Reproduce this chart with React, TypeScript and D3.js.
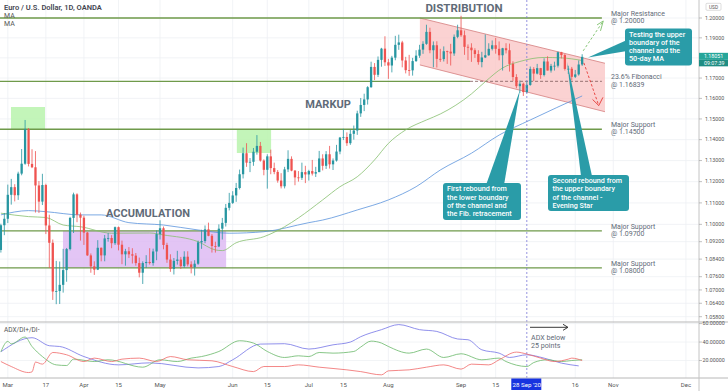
import React from "react";
import * as d3 from "d3";

const firstDate = "2020-02-27";
// [open, high, low, close] per trading day starting at firstDate
const candles: [number, number, number, number][] = [
  [1.0882, 1.1003, 1.087, 1.0996], [1.0996, 1.1053, 1.095, 1.1026],
  [1.1026, 1.1186, 1.1006, 1.1138], [1.1138, 1.1213, 1.1092, 1.1174], [1.1174, 1.1188, 1.1107, 1.1136], [1.1136, 1.1247, 1.1114, 1.1238], [1.1238, 1.1355, 1.123, 1.1285],
  [1.1285, 1.1495, 1.128, 1.145], [1.145, 1.1456, 1.1272, 1.1284], [1.1284, 1.1354, 1.1264, 1.1268], [1.1268, 1.1345, 1.1055, 1.1182], [1.1182, 1.1203, 1.1053, 1.1106],
  [1.1106, 1.1237, 1.109, 1.1184], [1.1184, 1.119, 1.0955, 1.0995], [1.0995, 1.1045, 1.08, 1.0915], [1.0915, 1.093, 1.0655, 1.0693], [1.0693, 1.0832, 1.0636, 1.0695],
  [1.0695, 1.0829, 1.0637, 1.0723], [1.0723, 1.0887, 1.0688, 1.079], [1.079, 1.0891, 1.0737, 1.0886], [1.0886, 1.1035, 1.088, 1.103], [1.103, 1.1148, 1.096, 1.114],
  [1.114, 1.1145, 1.101, 1.1045], [1.1045, 1.1055, 1.0925, 1.1031], [1.1031, 1.104, 1.0905, 1.0962], [1.0962, 1.0965, 1.0855, 1.0857], [1.0857, 1.0866, 1.0778, 1.0807],
  [1.0807, 1.083, 1.0768, 1.0792], [1.0792, 1.0927, 1.079, 1.0892], [1.0892, 1.0893, 1.083, 1.0857], [1.0857, 1.0951, 1.083, 1.0935], [1.0935, 1.096, 1.092, 1.0937],
  [1.0937, 1.095, 1.089, 1.0913], [1.0913, 1.099, 1.0905, 1.0987], [1.0987, 1.099, 1.088, 1.0906], [1.0906, 1.0925, 1.0817, 1.0862], [1.0862, 1.0887, 1.081, 1.0876],
  [1.0876, 1.0895, 1.0845, 1.0862], [1.0862, 1.089, 1.082, 1.0856], [1.0856, 1.0868, 1.081, 1.0822], [1.0822, 1.0847, 1.0757, 1.0778], [1.0778, 1.083, 1.0727, 1.0822],
  [1.0822, 1.0858, 1.08, 1.0827], [1.0827, 1.089, 1.0815, 1.0822], [1.0822, 1.0888, 1.081, 1.0875], [1.0875, 1.0972, 1.0835, 1.0955], [1.0955, 1.1019, 1.093, 1.0982],
  [1.0982, 1.099, 1.0885, 1.0905], [1.0905, 1.0915, 1.0823, 1.0838], [1.0838, 1.0862, 1.0782, 1.0795], [1.0795, 1.0845, 1.077, 1.0832], [1.0832, 1.0878, 1.0815, 1.0838],
  [1.0838, 1.085, 1.0795, 1.0808], [1.0808, 1.0876, 1.08, 1.0851], [1.0851, 1.0876, 1.0807, 1.0816], [1.0816, 1.083, 1.0775, 1.0803], [1.0803, 1.0835, 1.0765, 1.0819],
  [1.0819, 1.0925, 1.0814, 1.0917], [1.0917, 1.0975, 1.0887, 1.0923], [1.0923, 1.0995, 1.0913, 1.0977], [1.0977, 1.1008, 1.0945, 1.0947], [1.0947, 1.0955, 1.087, 1.09],
  [1.09, 1.092, 1.087, 1.0898], [1.0898, 1.1, 1.0895, 1.098], [1.098, 1.103, 1.093, 1.1007], [1.1007, 1.1095, 1.099, 1.1077], [1.1077, 1.1147, 1.1065, 1.11],
  [1.11, 1.1155, 1.1095, 1.1135], [1.1135, 1.1194, 1.1105, 1.117], [1.117, 1.1257, 1.1163, 1.1235], [1.1235, 1.1362, 1.1215, 1.1335], [1.1335, 1.1383, 1.127, 1.129],
  [1.129, 1.1312, 1.1245, 1.1294], [1.1294, 1.136, 1.1275, 1.1342], [1.1342, 1.1422, 1.1328, 1.137], [1.137, 1.1389, 1.1295, 1.13], [1.13, 1.1306, 1.123, 1.1256],
  [1.1256, 1.133, 1.1167, 1.132], [1.132, 1.1352, 1.1235, 1.1264], [1.1264, 1.129, 1.1235, 1.1246], [1.1246, 1.1255, 1.1195, 1.1205], [1.1205, 1.124, 1.1168, 1.1178],
  [1.1178, 1.127, 1.1168, 1.1258], [1.1258, 1.1349, 1.1245, 1.1308], [1.1308, 1.132, 1.1249, 1.1252], [1.1252, 1.1255, 1.1183, 1.122], [1.122, 1.125, 1.12, 1.1218],
  [1.1218, 1.129, 1.1208, 1.1245], [1.1245, 1.1275, 1.1193, 1.1234], [1.1234, 1.1256, 1.1205, 1.125], [1.125, 1.1303, 1.1229, 1.1238], [1.1238, 1.127, 1.1222, 1.1245],
  [1.1245, 1.1346, 1.1245, 1.131], [1.131, 1.133, 1.1253, 1.1275], [1.1275, 1.1345, 1.126, 1.133], [1.133, 1.137, 1.1262, 1.1282], [1.1282, 1.131, 1.1255, 1.13],
  [1.13, 1.1375, 1.1295, 1.1343], [1.1343, 1.1413, 1.133, 1.141], [1.141, 1.1452, 1.1398, 1.1413], [1.1413, 1.1435, 1.137, 1.1383], [1.1383, 1.1448, 1.1375, 1.1428],
  [1.1428, 1.1468, 1.14, 1.1444], [1.1444, 1.154, 1.1423, 1.1527], [1.1527, 1.1602, 1.151, 1.1568], [1.1568, 1.1623, 1.1538, 1.1595], [1.1595, 1.166, 1.157, 1.1655],
  [1.1655, 1.1781, 1.1652, 1.1755], [1.1755, 1.1774, 1.169, 1.1716], [1.1716, 1.1807, 1.1705, 1.179], [1.179, 1.185, 1.1756, 1.1846], [1.1846, 1.1908, 1.176, 1.1778],
  [1.1778, 1.1795, 1.1696, 1.1762], [1.1762, 1.181, 1.1728, 1.1801], [1.1801, 1.191, 1.1788, 1.1865], [1.1865, 1.1916, 1.184, 1.1877], [1.1877, 1.1885, 1.1753, 1.1787],
  [1.1787, 1.1805, 1.1723, 1.1739], [1.1739, 1.1815, 1.1711, 1.1738], [1.1738, 1.18, 1.1712, 1.1784], [1.1784, 1.1838, 1.178, 1.1811], [1.1811, 1.1865, 1.18, 1.1841],
  [1.1841, 1.1883, 1.182, 1.187], [1.187, 1.1966, 1.1865, 1.193], [1.193, 1.1951, 1.1823, 1.1838], [1.1838, 1.1882, 1.1753, 1.1863], [1.1863, 1.1883, 1.1752, 1.1795],
  [1.1795, 1.1845, 1.178, 1.1794], [1.1794, 1.1857, 1.1782, 1.1833], [1.1833, 1.1836, 1.177, 1.1831], [1.1831, 1.187, 1.1762, 1.1822], [1.1822, 1.1917, 1.181, 1.1905],
  [1.1905, 1.1966, 1.1898, 1.1938], [1.1938, 1.2011, 1.1905, 1.1913], [1.1913, 1.1937, 1.1815, 1.1855], [1.1855, 1.1867, 1.1789, 1.1851], [1.1851, 1.1873, 1.178, 1.1838],
  [1.1838, 1.1848, 1.18, 1.1819], [1.1819, 1.1838, 1.1766, 1.1779], [1.1779, 1.183, 1.1753, 1.1802], [1.1802, 1.1917, 1.1799, 1.1813], [1.1813, 1.1873, 1.181, 1.1845],
  [1.1845, 1.1887, 1.1837, 1.1863], [1.1863, 1.19, 1.1821, 1.1845], [1.1845, 1.1882, 1.1788, 1.1813], [1.1813, 1.185, 1.1737, 1.1848], [1.1848, 1.1873, 1.1822, 1.1838],
  [1.1838, 1.1871, 1.1732, 1.177], [1.177, 1.1783, 1.1686, 1.1705], [1.1705, 1.1719, 1.165, 1.166], [1.166, 1.1688, 1.1627, 1.1672], [1.1672, 1.1677, 1.1612, 1.1631],
  [1.1631, 1.1683, 1.1625, 1.1666], [1.1666, 1.1757, 1.1662, 1.1745], [1.1745, 1.1754, 1.1685, 1.1722], [1.1722, 1.177, 1.1718, 1.1749], [1.1749, 1.175, 1.1696, 1.1715],
  [1.1715, 1.1798, 1.1708, 1.1782], [1.1782, 1.1808, 1.1738, 1.1737], [1.1737, 1.177, 1.1727, 1.176], [1.176, 1.1781, 1.1737, 1.1761], [1.1761, 1.1831, 1.1752, 1.1828],
  [1.1828, 1.183, 1.1797, 1.1814], [1.1814, 1.182, 1.1737, 1.1745], [1.1745, 1.1761, 1.172, 1.1746], [1.1746, 1.1755, 1.1689, 1.1706], [1.1706, 1.174, 1.17, 1.1718],
  [1.1718, 1.1787, 1.1712, 1.1767], [1.1767, 1.1818, 1.176, 1.1805],
];

// moving averages read at bar indices
const maFastIdx = [0, 8, 13, 18, 23, 32, 43, 47, 57, 62, 64, 68, 76, 82, 86, 93, 98, 103, 108, 112, 117, 123, 127, 136, 140, 145, 150, 157, 162, 168];
const maFastVal = [1.1052, 1.1036, 1.1032, 1.0997, 1.0989, 1.0959, 1.096, 1.0951, 1.092, 1.0882, 1.0879, 1.0915, 1.0943, 1.0989, 1.103, 1.1114, 1.1176, 1.1223, 1.1303, 1.1382, 1.1447, 1.1495, 1.1524, 1.1622, 1.1682, 1.175, 1.1782, 1.1802, 1.18, 1.1787];
const maSlowIdx = [0, 8, 13, 23, 29, 37, 47, 57, 66, 76, 89, 93, 103, 112, 120, 127, 136, 144, 153, 168];
const maSlowVal = [1.1044, 1.1064, 1.1059, 1.1044, 1.1044, 1.1008, 1.0997, 1.0974, 1.0959, 1.0966, 1.1008, 1.102, 1.1067, 1.1114, 1.1176, 1.1255, 1.1335, 1.1422, 1.1495, 1.1612];

// ADX / DI+ / DI- read at bar indices
const adxIdx = [0, 9, 14, 17, 24, 34, 43, 57, 63, 67, 75, 82, 89, 96, 101, 104, 110, 115, 121, 126, 132, 135, 139, 144, 147, 152, 157, 162, 167];
const adxVal = [29.5, 44.7, 36, 35.2, 24.3, 15.3, 17.5, 12, 13.5, 20.8, 37.8, 38.2, 32.4, 37, 40, 45.8, 53.4, 58.9, 53.4, 51.5, 43.3, 42.5, 31.6, 28, 23.3, 26.2, 22.6, 17.2, 14.2];
const diPlusIdx = [0, 2, 3, 7, 9, 12, 16, 19, 21, 27, 31, 41, 46, 51, 55, 58, 63, 69, 73, 77, 82, 86, 89, 92, 96, 102, 104, 107, 110, 112, 118, 123, 128, 133, 139, 144, 146, 152, 154, 158, 162, 165, 168];
const diPlusVal = [29.5, 40.7, 38, 45.4, 35.2, 24.3, 15.3, 14.6, 21.5, 18.9, 20.8, 12.8, 20.8, 18.9, 22.6, 24.3, 29.8, 41.4, 38.9, 29.8, 23.3, 25.1, 24.3, 28.7, 28, 29.8, 34.6, 41, 38.9, 35.2, 28, 32.4, 23.3, 27.3, 20.8, 22.6, 18.9, 13.5, 17.8, 20.8, 18.9, 20, 20.8];
const diMinusIdx = [0, 3, 8, 9, 10, 12, 15, 19, 24, 27, 32, 35, 40, 45, 49, 54, 61, 67, 73, 76, 82, 86, 92, 100, 104, 110, 112, 118, 123, 128, 133, 136, 141, 144, 149, 152, 156, 160, 164, 165, 168];
const diMinusVal = [18.9, 13.5, 7, 7.7, 18.3, 16.1, 28.7, 26.2, 18.9, 22.6, 18.9, 21.5, 22.6, 18.9, 24.3, 20.8, 19.7, 13.5, 8, 13.5, 13.5, 15.3, 12.8, 9.9, 8, 4.5, 8.8, 9.9, 12.8, 15.3, 10.7, 16.1, 15.3, 20.8, 29.1, 27, 22.6, 18.9, 21.5, 22.6, 20];

const priceTicks = [1.2, 1.19, 1.18, 1.17, 1.16, 1.15, 1.14, 1.13, 1.12, 1.11, 1.1, 1.092, 1.084, 1.076, 1.07, 1.064, 1.058];
const adxTicks = [20, 40, 60];
const xTickDates = ["2020-03-02", "2020-03-17", "2020-04-01", "2020-04-15", "2020-05-01", "2020-06-01", "2020-06-15", "2020-07-01", "2020-07-15", "2020-08-03", "2020-09-01", "2020-09-15", "2020-10-16", "2020-11-02", "2020-12-01"];
const xTickLabels = ["Mar", "17", "Apr", "15", "May", "Jun", "15", "Jul", "15", "Aug", "Sep", "15", "16", "Nov", "Dec"];

const levelPrices = [1.2, 1.16839, 1.145, 1.097, 1.08];
const levelTitles = ["Major Resistance", "23.6% Fibonacci", "Major Support", "Major Support", "Major Support"];
const markerDate = "2020-09-28";
const lastPrice = 1.18051;

const W = 728, H = 391;
const UP = "#2796a1", DOWN = "#ef5350";
const LEVEL = "#6f9a4a";
const TEAL = "#2a9ca8";
const FONT = "Roboto, 'Open Sans', sans-serif";

function weekdays(start: string, end: string): string[] {
  const out: string[] = [];
  const d = new Date(start + "T00:00:00Z");
  const e = new Date(end + "T00:00:00Z");
  while (d <= e) {
    const wd = d.getUTCDay();
    if (wd !== 0 && wd !== 6) out.push(d.toISOString().slice(0, 10));
    d.setUTCDate(d.getUTCDate() + 1);
  }
  return out;
}

export default function App() {
  const dates = weekdays(firstDate, "2020-12-31");
  const idxOf = (s: string) => dates.indexOf(s);
  const x = d3.scaleLinear().domain([0, 210]).range([0.88, 0.88 + 210 * 3.46]);
  const y = d3.scaleLog().domain([1.058, 1.2]).range([316.7, 18]);
  const ya = d3.scaleLinear().domain([0, 61.7]).range([379, 322]);

  const paneRight = 699;
  const paneBottom = 322;
  const adxBottom = 378;

  const maLine = d3.line<number>().curve(d3.curveMonotoneX);
  const fastPts = maFastIdx.map((i, k) => [x(i), y(maFastVal[k])] as [number, number]);
  const slowPts = maSlowIdx.map((i, k) => [x(i), y(maSlowVal[k])] as [number, number]);
  const adxLine = d3.line<[number, number]>().curve(d3.curveMonotoneX);
  const mk = (idx: number[], val: number[]) => adxLine(idx.map((i, k) => [x(i), ya(val[k])] as [number, number])) || "";

  const bw = 2.3;
  const markerX = x(idxOf(markerDate));
  const levelEnd = x(173.7);

  // channel corners (bar index, price)
  const ch = [
    [121.1, 1.2], [174.6, 1.1773], [174.6, 1.1535], [121.1, 1.1765],
  ].map(([i, p]) => [x(i), y(p)]);

  const callout = (lines: string[], bx: number, by: number, bwid: number, bh: number, tx: number, ty: number) => (
    <g>
      <rect x={bx} y={by} width={bwid} height={bh} rx={3} fill={TEAL} />
      {lines.map((t, k) => (
        <text key={k} x={tx} y={ty + k * 8.2} fontSize={7.2} fontWeight={500} fill="#fff" fontFamily={FONT}>{t}</text>
      ))}
    </g>
  );

  return (
    <div style={{ position: "fixed", left: 0, top: 0 }}>
      <svg width={W} height={H} style={{ display: "block", background: "#fff" }}>
        <defs>
          <clipPath id="pane"><rect x={0} y={0} width={paneRight} height={paneBottom} /></clipPath>
          <clipPath id="adx"><rect x={0} y={paneBottom} width={paneRight} height={adxBottom - paneBottom} /></clipPath>
        </defs>
        {/* grid */}
        {priceTicks.map((p) => (
          <line key={p} x1={0} x2={paneRight} y1={y(p)} y2={y(p)} stroke="#eef0f4" strokeWidth={0.8} />
        ))}
        {adxTicks.map((v) => (
          <line key={v} x1={0} x2={paneRight} y1={ya(v)} y2={ya(v)} stroke="#eef0f4" strokeWidth={0.8} />
        ))}
        {xTickDates.map((d) => (
          <line key={d} x1={x(idxOf(d))} x2={x(idxOf(d))} y1={0} y2={adxBottom} stroke="#eef0f4" strokeWidth={0.8} />
        ))}

        <g clipPath="url(#pane)">
          {/* zones */}
          <rect x={x(2.92)} y={y(1.1558)} width={x(12.75) - x(2.92)} height={y(1.145) - y(1.1558)} fill="#b9f3ad" opacity={0.85} />
          <rect x={x(68.2)} y={y(1.145)} width={x(78.1) - x(68.2)} height={y(1.1336) - y(1.145)} fill="#b9f3ad" opacity={0.85} />
          <rect x={x(17.95)} y={y(1.097)} width={x(65.1) - x(17.95)} height={y(1.08) - y(1.097)} fill="#dcb6f2" opacity={0.8} />
          <polygon points={ch.map((p) => p.join(",")).join(" ")} fill="#f9c3c3" opacity={0.75} />
          <line x1={ch[0][0]} y1={ch[0][1]} x2={ch[1][0]} y2={ch[1][1]} stroke="#d98a8a" strokeWidth={0.9} />
          <line x1={ch[3][0]} y1={ch[3][1]} x2={ch[2][0]} y2={ch[2][1]} stroke="#d98a8a" strokeWidth={0.9} />

          {/* levels */}
          {levelPrices.map((p, k) => (
            k === 1 ? (
              <g key={p}>
                <line x1={0} x2={x(135.6)} y1={y(p)} y2={y(p)} stroke={LEVEL} strokeWidth={1.3} />
                <line x1={x(135.6)} x2={levelEnd} y1={y(p)} y2={y(p)} stroke="#8a6666" strokeWidth={0.9} strokeDasharray="3,2" />
              </g>
            ) : (
              <line key={p} x1={0} x2={levelEnd} y1={y(p)} y2={y(p)} stroke={LEVEL} strokeWidth={1.3} />
            )
          ))}

          {/* moving averages */}
          <path d={maLine(slowPts) || ""} fill="none" stroke="#5b93dc" strokeWidth={0.8} />
          <path d={maLine(fastPts) || ""} fill="none" stroke="#86bf6e" strokeWidth={0.8} />

          {/* candles */}
          {candles.map(([o, h, l, c], i) => {
            const col = c >= o ? UP : DOWN;
            const cx = x(i);
            const top = y(Math.max(o, c));
            const bot = y(Math.min(o, c));
            return (
              <g key={i}>
                <line x1={cx} x2={cx} y1={y(h)} y2={y(l)} stroke={col} strokeWidth={0.8} />
                <rect x={cx - bw / 2} y={top} width={bw} height={Math.max(0.8, bot - top)} fill={col} />
              </g>
            );
          })}

          {/* projections */}
          <path d={`M${x(168.3)},${y(1.1835)} L${x(174.1)},${y(1.1985)}`} stroke="#7cc06a" strokeWidth={0.9} strokeDasharray="2.5,2" fill="none" />
          <path d={`M${x(172.3)},${y(1.1965)} L${x(174.1)},${y(1.1985)} L${x(173.3)},${y(1.1935)}`} stroke="#7cc06a" strokeWidth={0.9} fill="none" />
          <path d={`M${x(168.5)},${y(1.1775)} L${x(172.8)},${y(1.1565)}`} stroke="#e53935" strokeWidth={0.9} strokeDasharray="2.5,2" fill="none" />
          <path d={`M${x(171.0)},${y(1.1595)} L${x(172.8)},${y(1.1565)} L${x(174.0)},${y(1.1605)}`} stroke="#e53935" strokeWidth={0.9} fill="none" />
        </g>

        {/* marker line */}
        <line x1={markerX} x2={markerX} y1={0} y2={adxBottom} stroke="#7a78d8" strokeWidth={0.8} strokeDasharray="2,2" />

        {/* phase labels */}
        <text x={464} y={12} fontSize={11.5} fontWeight={700} fill="#5f6b78" fontFamily={FONT} textAnchor="middle">DISTRIBUTION</text>
        <text x={328} y={108} fontSize={11} fontWeight={700} fill="#5f6b78" fontFamily={FONT} textAnchor="middle">MARKUP</text>
        <text x={148} y={216.5} fontSize={11} fontWeight={700} fill="#5f6b78" fontFamily={FONT} textAnchor="middle">ACCUMULATION</text>

        {/* level labels */}
        {levelPrices.map((p, k) => (
          <g key={p}>
            <text x={611} y={y(p) - 2} fontSize={7} fill="#5f6b78" fontFamily={FONT}>{levelTitles[k]}</text>
            <text x={611} y={y(p) + 5.2} fontSize={7} fill="#5f6b78" fontFamily={FONT}>{"@ " + p.toFixed(5)}</text>
          </g>
        ))}

        {/* callouts */}
        <polygon points="588,57.5 627,40 627,51" fill={TEAL} />
        {callout(["Testing the upper", "boundary of the", "channel and the", "50-day MA"], 625, 28.5, 67, 37, 629, 36.8)}
        <polygon points="520,90 486,185 504,185" fill={TEAL} />
        {callout(["First rebound from", "the lower boundary", "of the channel and", "the Fib. retracement"], 443, 183, 78, 37, 447, 191.3)}
        <polygon points="567,62 581,176 592,176" fill={TEAL} />
        {callout(["Second rebound from", "the upper boundary", "of the channel -", "Evening Star"], 548, 175, 81, 36, 552.5, 183.2)}

        {/* ADX pane */}
        <g clipPath="url(#adx)">
          <path d={mk(adxIdx, adxVal)} fill="none" stroke="#7474e6" strokeWidth={0.8} />
          <path d={mk(diPlusIdx, diPlusVal)} fill="none" stroke="#68b868" strokeWidth={0.8} />
          <path d={mk(diMinusIdx, diMinusVal)} fill="none" stroke="#f06868" strokeWidth={0.8} />
        </g>
        <text x={4} y={332} fontSize={6.5} fill="#555" fontFamily={FONT}>ADX/DI+/DI-</text>
        <line x1={530} x2={567} y1={327.3} y2={327.3} stroke="#222" strokeWidth={0.9} />
        <path d="M563,324.3 L568,327.3 L563,330.3" fill="none" stroke="#222" strokeWidth={0.9} />
        <text x={531} y={340} fontSize={7.1} fill="#5f6b78" fontFamily={FONT}>ADX below</text>
        <text x={531} y={348.3} fontSize={7.1} fill="#5f6b78" fontFamily={FONT}>25 points</text>

        {/* frame */}
        <line x1={0} x2={W} y1={paneBottom} y2={paneBottom} stroke="#b8b8b8" strokeWidth={1.2} />
        <line x1={0} x2={W} y1={adxBottom} y2={adxBottom} stroke="#b8b8b8" strokeWidth={1} />
        <line x1={paneRight} x2={paneRight} y1={0} y2={H} stroke="#c4c4c4" strokeWidth={1} />

        {/* price axis */}
        {priceTicks.map((p) => (
          <g key={p}>
            <line x1={paneRight} x2={paneRight + 3} y1={y(p)} y2={y(p)} stroke="#999" strokeWidth={0.6} />
            <text x={705} y={y(p) + 1.8} fontSize={5.3} fill="#555" fontFamily={FONT}>{p.toFixed(5)}</text>
          </g>
        ))}
        {adxTicks.map((v) => (
          <g key={v}>
            <line x1={paneRight} x2={paneRight + 3} y1={ya(v)} y2={ya(v)} stroke="#999" strokeWidth={0.6} />
            <text x={702.5} y={ya(v) + 1.8} fontSize={5.3} fill="#555" fontFamily={FONT}>{v.toFixed(5)}</text>
          </g>
        ))}
        <rect x={706} y={3.3} width={15} height={7} fill="#fff" stroke="#bbb" strokeWidth={0.5} rx={1} />
        <text x={713.5} y={8.6} fontSize={4.8} fill="#555" fontFamily={FONT} textAnchor="middle">USD</text>
        <rect x={paneRight} y={y(lastPrice) - 4} width={W - paneRight} height={7} fill="#26a69a" />
        <text x={704} y={y(lastPrice) + 1.6} fontSize={5.3} fill="#fff" fontFamily={FONT}>{lastPrice.toFixed(5)}</text>
        <rect x={paneRight} y={y(lastPrice) + 3} width={W - paneRight} height={6.5} fill="#1f8d83" />
        <text x={704} y={y(lastPrice) + 8.3} fontSize={5.3} fill="#fff" fontFamily={FONT}>09:07:39</text>

        {/* time axis */}
        {xTickDates.map((d, k) => (
          <text key={d} x={x(idxOf(d))} y={387} fontSize={6} fill="#555" fontFamily={FONT} textAnchor="middle">{xTickLabels[k]}</text>
        ))}
        <rect x={markerX - 15.5} y={378.5} width={30} height={11.5} fill="#1733e0" />
        <text x={markerX} y={386.5} fontSize={6.2} fill="#fff" fontFamily={FONT} textAnchor="middle">28 Sep '20</text>

        {/* title */}
        <text x={4} y={10} fontSize={7.5} fontWeight={600} fill="#434651" fontFamily={FONT}>Euro / U.S. Dollar, 1D, OANDA</text>
        <text x={4} y={17.8} fontSize={7} fill="#555" fontFamily={FONT}>MA</text>
        <text x={4} y={25.5} fontSize={7} fill="#555" fontFamily={FONT}>MA</text>
      </svg>
    </div>
  );
}
